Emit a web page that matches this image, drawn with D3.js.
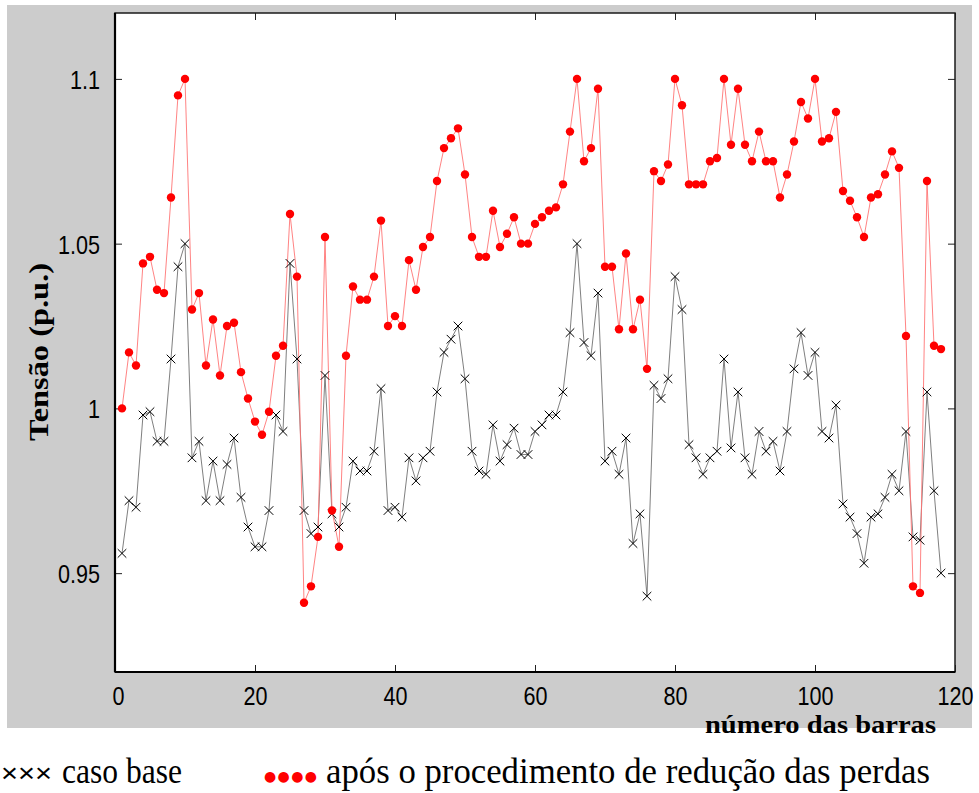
<!DOCTYPE html>
<html>
<head>
<meta charset="utf-8">
<script src="https://cdn.jsdelivr.net/npm/d3@7"></script>
<style>
  body { margin: 0; background: #fff; }
  svg { display: block; }
  .serif { font-family: "Liberation Serif", "Times New Roman", Times, serif; }
  .sans { font-family: "Liberation Sans", Arial, Helvetica, sans-serif; }
  .dots { font-family: "DejaVu Sans", sans-serif; }
</style>
</head>
<body>
<div class="wrapper"></div>
<script>
// bus voltages, base case vs after the loss reduction procedure

var barras = d3.range(1, 119);

var casoBase = [
    0.956, 0.972, 0.970, 0.998, 0.999, 0.990, 0.990, 1.015, 1.043, 1.050,
    0.985, 0.990, 0.972, 0.984, 0.972, 0.983, 0.991, 0.973, 0.964, 0.958,
    0.958, 0.969, 0.998, 0.993, 1.044, 1.015, 0.969, 0.962, 0.964, 1.010,
    0.968, 0.964, 0.970, 0.984, 0.981, 0.981, 0.987, 1.006, 0.969, 0.970,
    0.967, 0.985, 0.978, 0.985, 0.987, 1.005, 1.017, 1.021, 1.025, 1.009,
    0.987, 0.981, 0.980, 0.995, 0.984, 0.989, 0.994, 0.986, 0.986, 0.993,
    0.995, 0.998, 0.998, 1.005, 1.023, 1.050, 1.020, 1.016, 1.035, 0.984,
    0.987, 0.980, 0.991, 0.959, 0.968, 0.943, 1.007, 1.003, 1.009, 1.040,
    1.030, 0.989, 0.985, 0.980, 0.985, 0.987, 1.015, 0.988, 1.005, 0.985,
    0.980, 0.993, 0.987, 0.990, 0.981, 0.993, 1.012, 1.023, 1.010, 1.017,
    0.993, 0.991, 1.001, 0.971, 0.967, 0.962, 0.953, 0.967, 0.968, 0.973,
    0.980, 0.975, 0.993, 0.961, 0.960, 1.005, 0.975, 0.950
];

var aposReducao = [
    1.000, 1.017, 1.013, 1.044, 1.046, 1.036, 1.035, 1.064, 1.095, 1.100,
    1.030, 1.035, 1.013, 1.027, 1.010, 1.025, 1.026, 1.011, 1.003, 0.996,
    0.992, 0.999, 1.016, 1.019, 1.059, 1.040, 0.941, 0.946, 0.961, 1.052,
    0.969, 0.958, 1.016, 1.037, 1.033, 1.033, 1.040, 1.057, 1.025, 1.028,
    1.025, 1.045, 1.036, 1.049, 1.052, 1.069, 1.079, 1.082, 1.085, 1.071,
    1.052, 1.046, 1.046, 1.060, 1.049, 1.053, 1.058, 1.050, 1.050, 1.056,
    1.058, 1.060, 1.061, 1.068, 1.084, 1.100, 1.075, 1.079, 1.097, 1.043,
    1.043, 1.024, 1.047, 1.024, 1.033, 1.012, 1.072, 1.069, 1.074, 1.100,
    1.092, 1.068, 1.068, 1.068, 1.075, 1.076, 1.100, 1.080, 1.097, 1.080,
    1.075, 1.084, 1.075, 1.075, 1.064, 1.071, 1.081, 1.093, 1.088, 1.100,
    1.081, 1.082, 1.090, 1.066, 1.063, 1.058, 1.052, 1.064, 1.065, 1.071,
    1.078, 1.073, 1.022, 0.946, 0.944, 1.069, 1.019, 1.018
];

var yTicks = [0.95, 1, 1.05, 1.1];
var xTicks = [0, 20, 40, 60, 80, 100, 120];

var svgWidth = 979;
var svgHeight = 793;
var plot = { left: 115, right: 955, top: 13, bottom: 672 };

var svg = d3.select(".wrapper").append("svg")
    .attr("width", svgWidth)
    .attr("height", svgHeight);

// grey figure background and white axes area
svg.append("rect")
    .attr("x", 7).attr("y", 5)
    .attr("width", 965).attr("height", 723)
    .attr("fill", "#cccccc");

svg.append("rect")
    .attr("x", plot.left).attr("y", plot.top)
    .attr("width", plot.right - plot.left)
    .attr("height", plot.bottom - plot.top)
    .attr("fill", "#ffffff");

var x = d3.scaleLinear().domain([0, 120]).range([plot.left, plot.right]);
var y = d3.scaleLinear().domain([0.92, 1.12]).range([plot.bottom, plot.top]);

function fmtY(d) {
    return String(+d.toFixed(2));
}

// axes with inward ticks, like matlab
var gLeft = svg.append("g")
    .attr("transform", "translate(" + plot.left + ",0)")
    .call(d3.axisLeft(y).tickValues(yTicks).tickFormat(fmtY)
        .tickSizeInner(-7).tickSizeOuter(0).tickPadding(15));

var gRight = svg.append("g")
    .attr("transform", "translate(" + plot.right + ",0)")
    .call(d3.axisRight(y).tickValues(yTicks).tickFormat("")
        .tickSizeInner(-7).tickSizeOuter(0));

var gBottom = svg.append("g")
    .attr("transform", "translate(0," + plot.bottom + ")")
    .call(d3.axisBottom(x).tickValues(xTicks)
        .tickSizeInner(-7).tickSizeOuter(0));

var gTop = svg.append("g")
    .attr("transform", "translate(0," + plot.top + ")")
    .call(d3.axisTop(x).tickValues(xTicks).tickFormat("")
        .tickSizeInner(-7).tickSizeOuter(0));

[gLeft, gRight, gBottom, gTop].forEach(function(g) {
    g.attr("font-family", null).attr("font-size", null);
    g.select(".domain").remove();
    g.selectAll(".tick line").attr("stroke", "#222").attr("stroke-width", 1);
});

// condensed tick labels
gLeft.selectAll(".tick text")
    .attr("class", "sans")
    .attr("x", 0)
    .attr("dy", "0.36em")
    .attr("transform", "translate(-15,0) scale(0.83,1)")
    .attr("font-size", 26)
    .attr("fill", "#000");

gBottom.selectAll(".tick text")
    .attr("class", "sans")
    .attr("y", 0)
    .attr("dy", 0)
    .attr("transform", function(d) {
        return "translate(" + (d === 0 ? 3 : 0) + ",33) scale(0.83,1)";
    })
    .attr("font-size", 26)
    .attr("fill", "#000");

// axes box
svg.append("rect")
    .attr("x", plot.left).attr("y", plot.top)
    .attr("width", plot.right - plot.left)
    .attr("height", plot.bottom - plot.top)
    .attr("fill", "none")
    .attr("stroke", "#1a1a1a")
    .attr("stroke-width", 1.5);

svg.append("line")
    .attr("x1", plot.left).attr("x2", plot.right)
    .attr("y1", plot.bottom).attr("y2", plot.bottom)
    .attr("stroke", "#000").attr("stroke-width", 2.2);

svg.append("line")
    .attr("x1", plot.left).attr("x2", plot.left)
    .attr("y1", plot.top).attr("y2", plot.bottom)
    .attr("stroke", "#000").attr("stroke-width", 2.2);

// series lines
var seriesLine = d3.line()
    .x(function(d, i) { return x(barras[i]); })
    .y(function(d) { return y(d); });

svg.append("path")
    .datum(casoBase)
    .attr("d", seriesLine)
    .attr("fill", "none")
    .attr("stroke", "#707070")
    .attr("stroke-width", 0.9);

svg.append("path")
    .datum(aposReducao)
    .attr("d", seriesLine)
    .attr("fill", "none")
    .attr("stroke", "#ff7575")
    .attr("stroke-width", 0.9);

// markers: x for base case, filled dots for after
var crossSize = 4.3;
svg.append("g")
    .selectAll("path")
    .data(casoBase)
    .enter()
    .append("path")
    .attr("d", function(d, i) {
        var cx = x(barras[i]), cy = y(d), s = crossSize;
        return "M" + (cx - s) + "," + (cy - s) + "L" + (cx + s) + "," + (cy + s) +
               "M" + (cx - s) + "," + (cy + s) + "L" + (cx + s) + "," + (cy - s);
    })
    .attr("stroke", "#000")
    .attr("stroke-width", 1)
    .attr("fill", "none");

svg.append("g")
    .selectAll("circle")
    .data(aposReducao)
    .enter()
    .append("circle")
    .attr("cx", function(d, i) { return x(barras[i]); })
    .attr("cy", function(d) { return y(d); })
    .attr("r", 4.2)
    .attr("fill", "#ff0000");

// axis titles
svg.append("text")
    .attr("class", "serif")
    .attr("transform", "translate(48,352) rotate(-90)")
    .attr("text-anchor", "middle")
    .attr("font-weight", "bold")
    .attr("font-size", 27)
    .attr("textLength", 178)
    .attr("lengthAdjust", "spacingAndGlyphs")
    .text("Tensão (p.u.)");

svg.append("text")
    .attr("class", "serif")
    .attr("x", 705).attr("y", 733)
    .attr("font-weight", "bold")
    .attr("font-size", 26)
    .attr("textLength", 231)
    .attr("lengthAdjust", "spacingAndGlyphs")
    .text("número das barras");

// legend line under the figure
svg.append("text")
    .attr("class", "sans")
    .attr("x", 1).attr("y", 782)
    .attr("font-size", 25)
    .attr("textLength", 51)
    .attr("lengthAdjust", "spacingAndGlyphs")
    .text("×××");

svg.append("text")
    .attr("class", "serif")
    .attr("x", 62).attr("y", 783)
    .attr("font-size", 36)
    .attr("textLength", 120)
    .attr("lengthAdjust", "spacingAndGlyphs")
    .text("caso base");

svg.append("text")
    .attr("class", "dots")
    .attr("x", 264).attr("y", 781)
    .attr("font-size", 14)
    .attr("fill", "#ff0000")
    .attr("textLength", 53)
    .attr("lengthAdjust", "spacing")
    .text("●●●●");

svg.append("text")
    .attr("class", "serif")
    .attr("x", 326).attr("y", 783)
    .attr("font-size", 36)
    .attr("textLength", 604)
    .attr("lengthAdjust", "spacingAndGlyphs")
    .text("após o procedimento de redução das perdas");
</script>
</body>
</html>
